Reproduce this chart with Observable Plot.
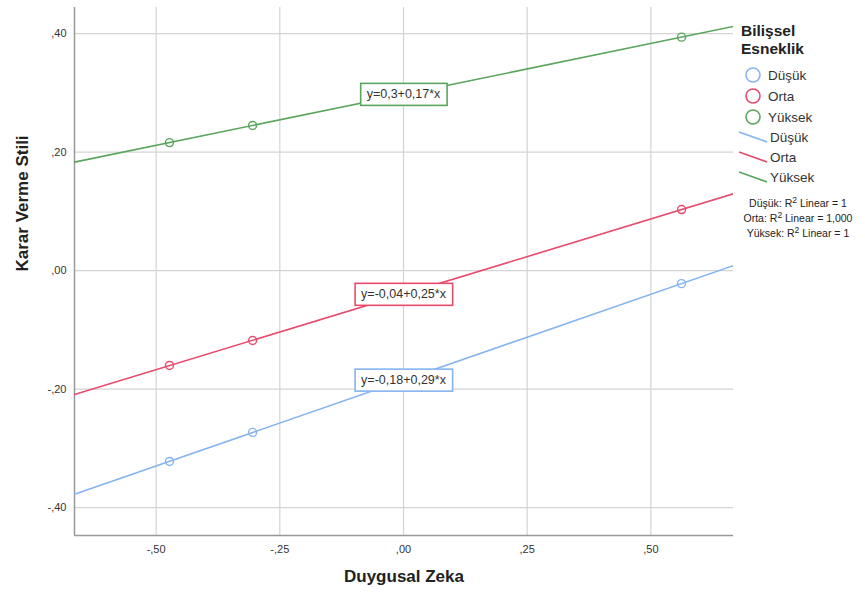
<!DOCTYPE html>
<html><head><meta charset="utf-8">
<script src="https://cdn.jsdelivr.net/npm/d3@7"></script>
<script src="https://cdn.jsdelivr.net/npm/@observablehq/plot@0.6"></script>
<style>
body{margin:0;background:#fff;font-family:"Liberation Sans",Arial,sans-serif}
#chart svg{display:block}
</style>
</head><body><div id="chart"></div>
<script>
// ---- data ----
const groups = ["Düşük", "Orta", "Yüksek"];
const colors = ["#85b4ef", "#e84a6c", "#5aa65c"];
const pointX = [-0.473, -0.305, 0.562];
const yDusuk = [-0.322, -0.273, -0.022];
const yOrta = [-0.160, -0.118, 0.103];
const yYuksek = [0.216, 0.245, 0.394];
const eqLabels = ["y=-0,18+0,29*x", "y=-0,04+0,25*x", "y=0,3+0,17*x"];
const r2Labels = [["Düşük: R", " Linear = 1"], ["Orta: R", " Linear = 1,000"], ["Yüksek: R", " Linear = 1"]];
const legendTitle = ["Bilişsel", "Esneklik"];
const xTicks = [-0.5, -0.25, 0, 0.25, 0.5];
const xTickLabels = ["-,50", "-,25", ",00", ",25", ",50"];
const yTicks = [-0.4, -0.2, 0, 0.2, 0.4];
const yTickLabels = ["-,40", "-,20", ",00", ",20", ",40"];
const xDomain = [-0.665, 0.667];
const yDomain = [-0.447, 0.444];
const xTitle = "Duygusal Zeka";
const yTitle = "Karar Verme Stili";

// ---- derived tables ----
const seriesY = [yDusuk, yOrta, yYuksek];
const points = groups.flatMap((g, i) => pointX.map((x, j) => ({group: g, x, y: seriesY[i][j]})));
function fit(xs, ys) {
  const mx = d3.mean(xs), my = d3.mean(ys);
  const b = d3.sum(xs, (x, k) => (x - mx) * (ys[k] - my)) / d3.sum(xs, x => (x - mx) ** 2);
  return {a: my - b * mx, b};
}
const fits = seriesY.map(ys => fit(pointX, ys));
const lines = groups.flatMap((g, i) => xDomain.map(x => ({group: g, x, y: fits[i].a + fits[i].b * x})));
const eqData = groups.map((g, i) => ({group: g, label: eqLabels[i], x: 0, y: fits[i].a}));

const plot = Plot.plot({
  width: 865, height: 598,
  marginLeft: 74, marginRight: 132, marginTop: 7, marginBottom: 63,
  style: {fontFamily: "'Liberation Sans', Arial, sans-serif", fontSize: "11px", color: "#333", background: "#fff"},
  x: {domain: xDomain, ticks: xTicks, tickFormat: d => xTickLabels[xTicks.indexOf(d)], label: null, tickSize: 0, tickPadding: 10},
  y: {domain: yDomain, ticks: yTicks, tickFormat: d => yTickLabels[yTicks.indexOf(d)], label: null, tickSize: 0, tickPadding: 8},
  color: {domain: groups, range: colors},
  marks: [
    Plot.gridX(xTicks, {stroke: "#d4d4d4", strokeOpacity: 1, strokeWidth: 1.2}),
    Plot.gridY(yTicks, {stroke: "#d4d4d4", strokeOpacity: 1, strokeWidth: 1.2}),
    Plot.ruleX([xDomain[0]], {stroke: "#999", strokeWidth: 1.5}),
    Plot.ruleY([yDomain[0]], {stroke: "#999", strokeWidth: 1.5}),
    Plot.line(lines, {x: "x", y: "y", z: "group", stroke: "group", strokeWidth: 1.6, clip: true}),
    Plot.dot(points, {x: "x", y: "y", stroke: "group", r: 4, strokeWidth: 1.4, fill: "none"}),
    Plot.text(eqData, {x: "x", y: "y", text: "label", fontSize: 12.5, fill: "#333"}),
    Plot.text([yTitle], {frameAnchor: "left", dx: -52, rotate: -90, fontWeight: "bold", fontSize: 17, fill: "#222"}),
    Plot.text([xTitle], {frameAnchor: "bottom", dy: 46, fontWeight: "bold", fontSize: 17, fill: "#222"})
  ]
});
document.getElementById("chart").appendChild(plot);

// boxes around equation labels
d3.select(plot).selectAll("text").each(function() {
  const t = this.textContent;
  const i = eqLabels.indexOf(t);
  if (i < 0) return;
  const bb = this.getBBox();
  const rect = document.createElementNS("http://www.w3.org/2000/svg", "rect");
  rect.setAttribute("x", bb.x - 6);
  rect.setAttribute("y", bb.y - 4);
  rect.setAttribute("width", bb.width + 12);
  rect.setAttribute("height", bb.height + 8);
  rect.setAttribute("fill", "#fff");
  rect.setAttribute("stroke", colors[i]);
  rect.setAttribute("stroke-width", 1.6);
  const tr = this.getAttribute("transform");
  if (tr) rect.setAttribute("transform", tr);
  this.parentNode.insertBefore(rect, this);
});

// legend
const lg = d3.select(plot).append("g")
  .attr("font-family", "'Liberation Sans', Arial, sans-serif")
  .attr("text-anchor", "start");
legendTitle.forEach((s, i) => {
  lg.append("text").attr("x", 741).attr("y", 36 + i * 17.5).attr("text-anchor", "start")
    .attr("font-weight", "bold").attr("font-size", 15.5).attr("fill", "#222").text(s);
});
groups.forEach((g, i) => {
  const cy = 75 + i * 21;
  lg.append("circle").attr("cx", 753).attr("cy", cy).attr("r", 7)
    .attr("fill", "none").attr("stroke", colors[i]).attr("stroke-width", 1.6);
  lg.append("text").attr("x", 768).attr("y", cy).attr("dy", "0.35em").attr("text-anchor", "start")
    .attr("font-size", 13.5).attr("fill", "#333").text(g);
  const ly = 137 + i * 20;
  lg.append("line").attr("x1", 739).attr("y1", ly - 5).attr("x2", 767).attr("y2", ly + 5)
    .attr("stroke", colors[i]).attr("stroke-width", 1.6);
  lg.append("text").attr("x", 770).attr("y", ly).attr("dy", "0.35em").attr("text-anchor", "start")
    .attr("font-size", 13.5).attr("fill", "#333").text(g);
});
r2Labels.forEach((parts, i) => {
  const t = lg.append("text").attr("x", 798).attr("y", 203 + i * 15).attr("dy", "0.35em")
    .attr("text-anchor", "middle").attr("font-size", 10.5).attr("fill", "#222");
  t.append("tspan").text(parts[0]);
  t.append("tspan").attr("dy", -4).attr("font-size", 8.5).text("2");
  t.append("tspan").attr("dy", 4).text(parts[1]);
});
</script>
</body></html>
